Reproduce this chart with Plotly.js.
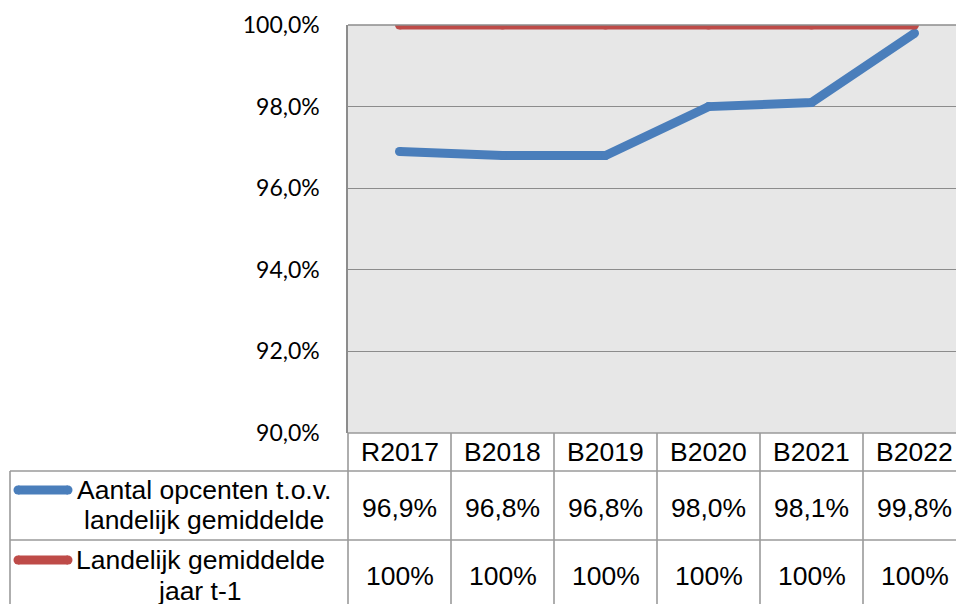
<!DOCTYPE html>
<html><head><meta charset="utf-8">
<script src="https://cdn.plot.ly/plotly-3.0.1.min.js"></script>
<style>html,body{margin:0;padding:0;background:#fff}#chart{width:956px;height:604px}</style>
</head><body><div id="chart"></div>
<script>
const categories = ['R2017', 'B2018', 'B2019', 'B2020', 'B2021', 'B2022'];
const opcenten = [96.9, 96.8, 96.8, 98.0, 98.1, 99.8];
const landelijk = [100, 100, 100, 100, 100, 100];
const opcentenName = ['Aantal opcenten t.o.v.', 'landelijk gemiddelde'];
const landelijkName = ['Landelijk gemiddelde', 'jaar t-1'];
const yTicks = [90, 92, 94, 96, 98, 100];
const yTickText = yTicks.map(v => v.toFixed(1).replace('.', ',') + '%');

const BLUE = '#4a7ebb', RED = '#be4b48', GRID = '#8c8c8c', TLINE = '#9a9a9a';
const W = 956, H = 604, L = 348, T = 25, PW = 608, PH = 408;
const colW = 103;
const px = x => (x - L) / PW;
const py = y => (T + PH - y) / PH;
const tableFont = {family: 'Liberation Sans, Arial, sans-serif', size: 26.5, color: '#000'};

const traces = [
  {x: categories, y: opcenten, type: 'scatter', mode: 'lines+markers',
   line: {color: BLUE, width: 9}, marker: {color: BLUE, size: 9}, hoverinfo: 'skip'},
  {x: categories, y: landelijk, type: 'scatter', mode: 'lines+markers',
   line: {color: RED, width: 9}, marker: {color: RED, size: 9}, hoverinfo: 'skip'}
];

const shapes = [];
const ln = (x0, y0, x1, y1, xref, color, width) => shapes.push({type: 'line', xref: xref, yref: 'paper',
  x0: x0, y0: y0, x1: x1, y1: y1, line: {color: color, width: width}, layer: 'above'});
// plot frame top
ln(0, 1, 1, 1, 'paper', GRID, 1.5);
// table horizontal lines
ln(0, py(433), 1, py(433), 'paper', TLINE, 1.6);
ln(px(10), py(471), 1, py(471), 'paper', TLINE, 1.6);
ln(px(10), py(540), 1, py(540), 'paper', TLINE, 1.6);
// table left border
ln(px(10), py(471), px(10), py(620), 'paper', TLINE, 1.6);
ln(0, py(433), 0, py(620), 'paper', TLINE, 1.6);
// category dividers
categories.forEach((c, i) => { if (i > 0) ln(i - 0.5, py(433), i - 0.5, py(620), 'x', TLINE, 1.6); });
// legend keys
[[490, BLUE], [560, RED]].forEach(([yy, col]) => {
  ln(px(18), py(yy), px(68), py(yy), 'paper', col, 9);
  [18, 68].forEach(cx => shapes.push({type: 'circle', xref: 'paper', yref: 'paper',
    x0: px(cx - 4.5), x1: px(cx + 4.5), y0: py(yy + 4.5), y1: py(yy - 4.5),
    fillcolor: col, line: {width: 0}, layer: 'above'}));
});

const annotations = [];
const ann = (x, xref, y, text) => annotations.push({x: x, xref: xref, y: py(y), yref: 'paper',
  text: text, showarrow: false, font: tableFont, xanchor: 'center', yanchor: 'middle'});
categories.forEach((c, i) => {
  ann(i, 'x', 452, c);
  ann(i, 'x', 508, opcenten[i].toFixed(1).replace('.', ',') + '%');
  ann(i, 'x', 576, landelijk[i].toFixed(0) + '%');
});
ann(px(204), 'paper', 490, opcentenName[0]);
ann(px(204), 'paper', 520, opcentenName[1]);
ann(px(200), 'paper', 560, landelijkName[0]);
ann(px(199), 'paper', 591, landelijkName[1]);

const layout = {
  width: W, height: H,
  margin: {l: L, r: W - L - PW, t: T, b: H - T - PH, pad: 0},
  paper_bgcolor: '#fff', plot_bgcolor: '#e7e7e7',
  showlegend: false,
  xaxis: {type: 'category', range: [-0.5, -0.5 + PW / colW], showgrid: false, zeroline: false,
    showticklabels: false, ticks: '', showline: false, fixedrange: true},
  yaxis: {range: [90, 100], tickmode: 'array', tickvals: yTicks, ticktext: yTickText,
    showgrid: true, gridcolor: GRID, gridwidth: 1.4, zeroline: false,
    showline: true, linecolor: GRID, linewidth: 1.6, ticks: '', ticklabelstandoff: 22,
    tickfont: {family: 'Lato, sans-serif', size: 23, color: '#000'}, fixedrange: true},
  shapes: shapes,
  annotations: annotations
};

Plotly.newPlot('chart', traces, layout, {displayModeBar: false, staticPlot: true});
</script></body></html>
